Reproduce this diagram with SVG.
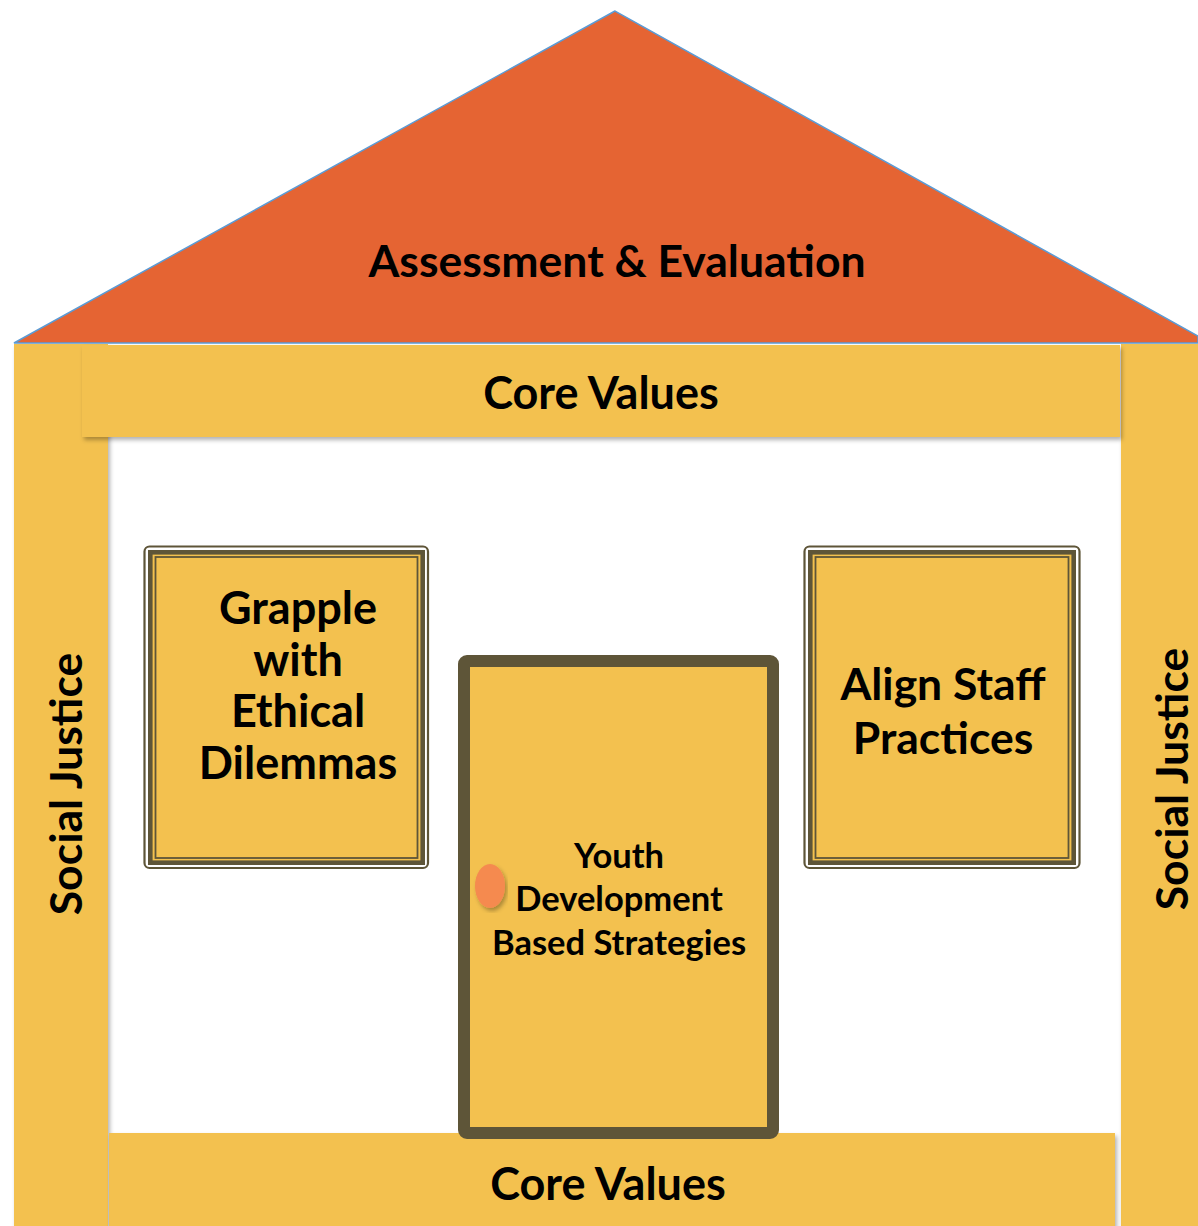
<svg xmlns="http://www.w3.org/2000/svg" width="1198" height="1226" viewBox="0 0 1198 1226">
<style>
.t{font-family:Lato,"Open Sans","Liberation Sans",sans-serif;font-weight:bold;fill:#000;text-anchor:middle}
.y{fill:#F3C14F}
.dk{fill:none;stroke:#5E5538}
</style>
<defs>
<filter id="sh" x="-10%" y="-10%" width="120%" height="120%">
<feDropShadow dx="2" dy="3" stdDeviation="2" flood-color="#000" flood-opacity="0.3"/>
</filter>
</defs>
<rect width="1198" height="1226" fill="#fff"/>
<g id="roof">
<polygon points="615,11 14,343 1198,343 1198,336" fill="#E56433" stroke="#5B9BD5" stroke-width="1.5"/>
<text class="t" x="617" y="277" font-size="44.5">Assessment &amp; Evaluation</text>
</g>
<g id="pillar-left">
<rect class="y" x="14" y="344" width="94" height="882" filter="url(#sh)"/>
<text class="t" font-size="44.5" transform="translate(82,784) rotate(-90)">Social Justice</text>
</g>
<g id="pillar-right">
<rect class="y" x="1121" y="344" width="80" height="882" filter="url(#sh)"/>
<text class="t" font-size="44.5" transform="translate(1188,779) rotate(-90)">Social Justice</text>
</g>
<g id="core-values-top">
<rect class="y" x="82" y="345" width="1038" height="92" filter="url(#sh)"/>
<text class="t" x="601" y="409" font-size="45">Core Values</text>
</g>
<g id="core-values-bottom">
<rect class="y" x="109" y="1133" width="1006" height="100" filter="url(#sh)"/>
<text class="t" x="608" y="1200" font-size="45">Core Values</text>
</g>
<g id="window-left">
<rect x="144.5" y="546.5" width="283.5" height="321.5" rx="5" fill="#fff" stroke="#5E5538" stroke-width="2.2"/>
<rect class="y" x="148" y="550" width="277" height="315"/>
<rect class="dk" x="150.3" y="552.3" width="272.4" height="310.4" stroke-width="4.6"/>
<rect class="dk" x="155.5" y="557" width="262" height="301" stroke-width="1.8"/>
<text class="t" font-size="45"><tspan x="298" y="624">Grapple</tspan><tspan x="298" y="676">with</tspan><tspan x="298" y="727">Ethical</tspan><tspan x="298" y="779">Dilemmas</tspan></text>
</g>
<g id="window-right">
<rect x="804.5" y="546.5" width="275" height="321.5" rx="5" fill="#fff" stroke="#5E5538" stroke-width="2.2"/>
<rect class="y" x="808" y="550" width="268" height="315"/>
<rect class="dk" x="810.3" y="552.3" width="263.4" height="310.4" stroke-width="4.6"/>
<rect class="dk" x="815.5" y="557" width="253" height="301" stroke-width="1.8"/>
<text class="t" font-size="44.5"><tspan x="943" y="700">Align Staff</tspan><tspan x="943" y="754">Practices</tspan></text>
</g>
<g id="door">
<rect x="464" y="661" width="309" height="472" rx="3" fill="#F3C14F" stroke="#5E5538" stroke-width="12"/>
<ellipse cx="490" cy="886" rx="15" ry="22" fill="#F58A4F" filter="url(#sh)"/>
<text class="t" font-size="34.5"><tspan x="619" y="868">Youth</tspan><tspan x="619" y="911">Development</tspan><tspan x="619" y="955">Based Strategies</tspan></text>
</g>
<g id="connectors"/>
</svg>
